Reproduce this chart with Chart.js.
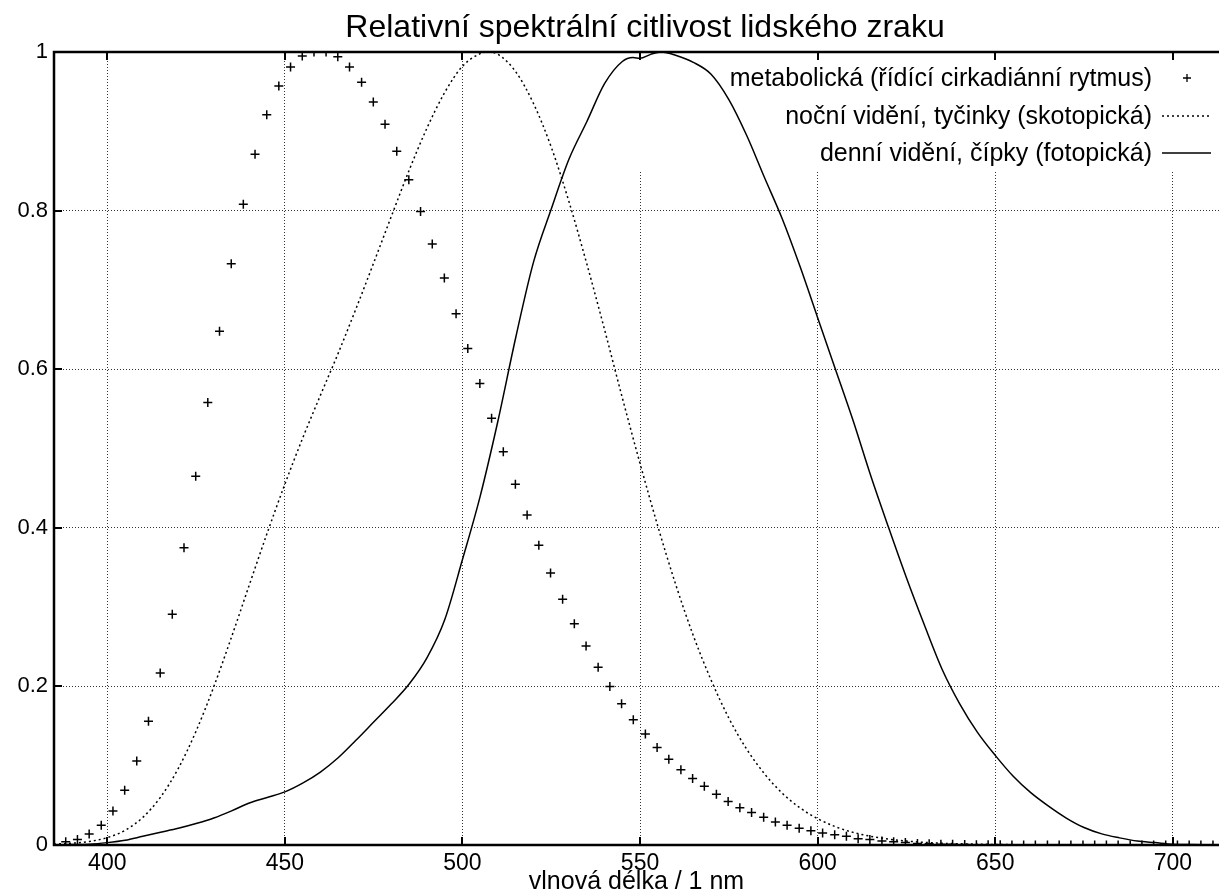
<!DOCTYPE html>
<html lang="cs">
<head>
<meta charset="UTF-8">
<title>Relativní spektrální citlivost lidského zraku</title>
<script src="https://cdn.jsdelivr.net/npm/chart.js"></script>
<style>
  body { margin: 0; background: #fff; }
  #wrap { width: 1225px; height: 896px; position: relative; }
</style>
</head>
<body>
<div id="wrap"><canvas id="chart"></canvas></div>
<script>
// axis ticks
const xTicks = [400, 450, 500, 550, 600, 650, 700];
const yTicks = [0, 0.2, 0.4, 0.6, 0.8, 1];

// metabolic (melanopsin) sensitivity
const metabolicNm = [388.3, 391.6, 394.9, 398.3, 401.6, 404.9, 408.3, 411.6, 414.9, 418.3,
  421.6, 424.9, 428.3, 431.6, 434.9, 438.3, 441.6, 444.9, 448.3, 451.6,
  454.9, 458.2, 461.6, 464.9, 468.2, 471.6, 474.9, 478.2, 481.5, 484.9,
  488.2, 491.5, 494.9, 498.2, 501.5, 504.9, 508.2, 511.5, 514.9, 518.2,
  521.5, 524.8, 528.2, 531.5, 534.8, 538.2, 541.5, 544.8, 548.1, 551.5,
  554.8, 558.1, 561.5, 564.8, 568.1, 571.5, 574.8, 578.1, 581.4, 584.8,
  588.1, 591.4, 594.8, 598.1, 601.4, 604.8, 608.1, 611.4, 614.7, 618.1,
  621.4, 624.7, 628.1, 631.4, 634.7, 638.0, 641.4, 644.7, 648.0, 651.4,
  654.7, 658.0, 661.3, 664.7, 668.0, 671.3, 674.7, 678.0, 681.3, 684.6,
  688.0, 691.3, 694.6, 698.0, 701.3, 704.6, 707.9, 711.3];
const metabolicVal = [0.004, 0.007, 0.014, 0.025, 0.043, 0.069, 0.106, 0.156, 0.217, 0.291,
  0.375, 0.465, 0.558, 0.648, 0.733, 0.808, 0.871, 0.921, 0.957, 0.981,
  0.995, 1.0, 1.0, 0.994, 0.981, 0.962, 0.937, 0.909, 0.875, 0.839,
  0.799, 0.758, 0.715, 0.670, 0.626, 0.582, 0.538, 0.496, 0.455, 0.416,
  0.378, 0.343, 0.310, 0.279, 0.251, 0.224, 0.200, 0.178, 0.158, 0.140,
  0.123, 0.108, 0.095, 0.084, 0.074, 0.064, 0.055, 0.047, 0.041, 0.035,
  0.029, 0.025, 0.021, 0.018, 0.015, 0.013, 0.011, 0.008, 0.007, 0.005,
  0.004, 0.003, 0.002, 0.0015, 0.001, 0.0008, 0.0006, 0.0004, 0.0003, 0.0002,
  0.0001, 0.0001, 0, 0, 0, 0, 0, 0, 0, 0,
  0, 0, 0, 0, 0, 0, 0, 0];

// night vision (scotopic)
const scotopicNm = [385, 390, 395, 400, 405, 410, 415, 420, 425, 430, 435, 440, 445, 450, 455,
  460, 465, 470, 475, 480, 485, 490, 495, 500, 505, 507, 510, 515, 520, 525, 530, 535, 540,
  545, 550, 555, 560, 565, 570, 575, 580, 585, 590, 595, 600, 605, 610, 615, 620, 625, 630,
  635, 640, 645, 650, 660, 670, 680, 690, 700, 710];
const scotopicVal = [0.0011, 0.0022, 0.0045, 0.0093, 0.0185, 0.0348, 0.0604, 0.0966, 0.1436,
  0.1998, 0.2625, 0.3281, 0.3931, 0.455, 0.513, 0.567, 0.620, 0.676, 0.734, 0.793, 0.851,
  0.904, 0.949, 0.982, 0.998, 1.0, 0.997, 0.975, 0.935, 0.880, 0.811, 0.733, 0.650, 0.564,
  0.481, 0.402, 0.329, 0.264, 0.208, 0.160, 0.121, 0.090, 0.0655, 0.0469, 0.0332, 0.0231,
  0.0159, 0.0109, 0.0074, 0.0050, 0.0033, 0.0022, 0.0015, 0.0010, 0.0007, 0.0003, 0.00015,
  0.00007, 0.00004, 0.00002, 0.00001];

// day vision (photopic)
const photopicNm = [385, 390, 395, 400, 405, 410, 415, 420, 425, 430, 435, 440, 445, 450, 455,
  460, 465, 470, 475, 480, 485, 490, 495, 500, 505, 510, 515, 520, 525, 530, 535, 540, 545,
  548, 550, 553, 556, 560, 565, 570, 575, 580, 585, 590, 595, 600, 605, 610, 615, 620, 625,
  630, 635, 640, 645, 650, 655, 660, 665, 670, 675, 680, 685, 690, 695, 700, 705, 710];
const photopicVal = [0, 0.0005, 0.001, 0.003, 0.006, 0.011, 0.016, 0.021, 0.027, 0.034, 0.043,
  0.053, 0.060, 0.067, 0.078, 0.092, 0.110, 0.132, 0.155, 0.178, 0.203, 0.236, 0.284, 0.36,
  0.44, 0.535, 0.64, 0.735, 0.802, 0.865, 0.912, 0.960, 0.988, 0.993, 0.992, 0.997, 1.0,
  0.996, 0.987, 0.972, 0.940, 0.895, 0.842, 0.79, 0.73, 0.665, 0.6, 0.535, 0.465, 0.40,
  0.337, 0.278, 0.222, 0.178, 0.142, 0.113, 0.087, 0.066, 0.049, 0.034, 0.022, 0.014, 0.009,
  0.005, 0.003, 0.001, 0.0005, 0.0002];

const legendLabels = [
  'metabolická (řídící cirkadiánní rytmus)',
  'noční vidění, tyčinky (skotopická)',
  'denní vidění, čípky (fotopická)'
];
const chartTitle = 'Relativní spektrální citlivost lidského zraku';
const xTitle = 'vlnová délka / 1 nm';

const FONT = '"Liberation Sans", Arial, Helvetica, sans-serif';
Chart.defaults.font.family = FONT;
Chart.defaults.color = '#000';

const pts = (xs, ys) => xs.map((x, i) => ({ x: x, y: ys[i] }));

// gnuplot-like frame, inward ticks, opaque key, title
const gnuplotFrame = {
  id: 'gnuplotFrame',
  beforeDatasetsDraw(chart) {
    const { ctx, chartArea: a } = chart;
    ctx.save();
    ctx.fillStyle = '#fff';
    ctx.fillRect(620, a.top + 2, a.right - 620, 170 - a.top - 2);
    ctx.restore();
  },
  afterDraw(chart) {
    const { ctx, chartArea: a, scales } = chart;
    ctx.save();
    ctx.strokeStyle = '#000';
    ctx.lineWidth = 2.5;
    ctx.beginPath();
    ctx.moveTo(a.right, a.top);
    ctx.lineTo(a.left, a.top);
    ctx.lineTo(a.left, a.bottom);
    ctx.lineTo(a.right, a.bottom);
    ctx.stroke();

    ctx.lineWidth = 2;
    ctx.beginPath();
    xTicks.forEach(v => {
      const px = Math.round(scales.x.getPixelForValue(v));
      ctx.moveTo(px, a.bottom); ctx.lineTo(px, a.bottom - 8);
      ctx.moveTo(px, a.top); ctx.lineTo(px, a.top + 8);
    });
    yTicks.forEach(v => {
      const py = Math.round(scales.y.getPixelForValue(v));
      ctx.moveTo(a.left, py); ctx.lineTo(a.left + 8, py);
    });
    ctx.stroke();

    // key
    ctx.fillStyle = '#000';
    ctx.font = '25px ' + FONT;
    ctx.textAlign = 'right';
    ctx.textBaseline = 'alphabetic';
    const rows = [78, 116, 153];
    legendLabels.forEach((t, i) => ctx.fillText(t, 1152, rows[i] + 8));
    ctx.lineWidth = 1.3;
    ctx.beginPath();
    ctx.moveTo(1183, rows[0]); ctx.lineTo(1191, rows[0]);
    ctx.moveTo(1187, rows[0] - 4); ctx.lineTo(1187, rows[0] + 4);
    ctx.stroke();
    ctx.setLineDash([2, 3]);
    ctx.beginPath();
    ctx.moveTo(1162, rows[1]); ctx.lineTo(1211, rows[1]);
    ctx.stroke();
    ctx.setLineDash([]);
    ctx.lineWidth = 1.5;
    ctx.beginPath();
    ctx.moveTo(1162, rows[2]); ctx.lineTo(1211, rows[2]);
    ctx.stroke();

    // title
    ctx.font = '32px ' + FONT;
    ctx.textAlign = 'center';
    ctx.fillText(chartTitle, 645, 37);
    ctx.restore();
  }
};

new Chart(document.getElementById('chart'), {
  type: 'scatter',
  data: {
    datasets: [
      {
        label: legendLabels[0],
        data: pts(metabolicNm, metabolicVal),
        showLine: false,
        pointStyle: 'cross',
        pointRadius: 4.5,
        borderWidth: 1.5,
        borderColor: '#000',
        backgroundColor: '#000'
      },
      {
        label: legendLabels[1],
        data: pts(scotopicNm, scotopicVal),
        showLine: true,
        pointRadius: 0,
        borderWidth: 1.5,
        borderColor: '#000',
        borderDash: [2, 3],
        cubicInterpolationMode: 'monotone'
      },
      {
        label: legendLabels[2],
        data: pts(photopicNm, photopicVal),
        showLine: true,
        pointRadius: 0,
        borderWidth: 1.5,
        borderColor: '#000',
        cubicInterpolationMode: 'monotone'
      }
    ]
  },
  options: {
    responsive: true,
    maintainAspectRatio: false,
    animation: false,
    layout: { padding: { top: 52, left: 0, right: 0, bottom: 0 } },
    plugins: {
      legend: { display: false },
      tooltip: { enabled: false }
    },
    scales: {
      x: {
        type: 'linear',
        min: 385,
        max: 713,
        afterBuildTicks: s => { s.ticks = xTicks.map(v => ({ value: v })); },
        afterFit: s => { s.height = 51; },
        grid: { color: '#333', lineWidth: 1, drawTicks: false },
        border: { display: false, dash: [1, 2] },
        ticks: { font: { size: 23 }, padding: 5, maxRotation: 0 },
        title: { display: true, text: xTitle, font: { size: 25, lineHeight: 1 }, padding: { top: 0, bottom: 1 } }
      },
      y: {
        min: 0,
        max: 1,
        afterBuildTicks: s => { s.ticks = yTicks.map(v => ({ value: v })); },
        afterFit: s => { s.width = 54; },
        grid: { color: '#333', lineWidth: 1, drawTicks: false },
        border: { display: false, dash: [1, 2] },
        ticks: { font: { size: 22 }, padding: 6, callback: v => String(v) }
      }
    }
  },
  plugins: [gnuplotFrame]
});
</script>
</body>
</html>
